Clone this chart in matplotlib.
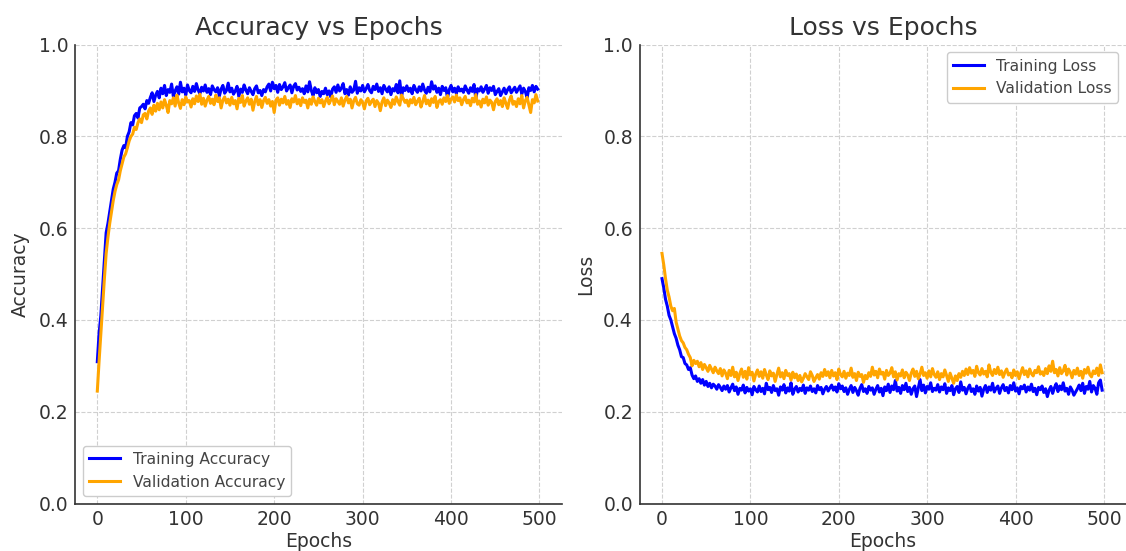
import numpy as np
import matplotlib
matplotlib.use("Agg")
import matplotlib.pyplot as plt

# Epochs sampled every 2 epochs (0, 2, ..., 498)
epochs = list(range(0, 500, 2))

train_acc = [
    0.309, 0.37, 0.41, 0.47, 0.53, 0.59, 0.61, 0.635, 0.66, 0.685, 0.70, 0.72, 0.725, 0.75, 0.77, 0.78, 0.775, 0.80,
    0.81, 0.83, 0.825, 0.845, 0.85, 0.84, 0.862, 0.865, 0.87, 0.86, 0.878, 0.872, 0.885, 0.895, 0.876, 0.89, 0.898, 0.884,
    0.905, 0.893, 0.911, 0.889, 0.902, 0.896, 0.914, 0.887, 0.899, 0.908, 0.892, 0.918, 0.897, 0.905, 0.890, 0.912, 0.900, 0.895, 0.909, 0.898,
    0.915, 0.901, 0.893, 0.907, 0.899, 0.912, 0.896, 0.904, 0.891, 0.910, 0.902, 0.897, 0.906, 0.888, 0.903, 0.911, 0.894, 0.900, 0.916, 0.897,
    0.905, 0.892, 0.899, 0.909, 0.887, 0.903, 0.896, 0.912, 0.901, 0.893, 0.906, 0.898, 0.891, 0.904, 0.910, 0.895, 0.900, 0.889, 0.902, 0.897,
    0.908, 0.914, 0.899, 0.918, 0.904, 0.911, 0.896, 0.913, 0.902, 0.908, 0.917, 0.899, 0.906, 0.912, 0.895, 0.909, 0.915, 0.901, 0.907, 0.898,
    0.904, 0.893, 0.910, 0.897, 0.919, 0.900, 0.889, 0.906, 0.895, 0.902, 0.887, 0.898, 0.893, 0.905, 0.891, 0.899, 0.886, 0.903, 0.908, 0.896,
    0.912, 0.899, 0.905, 0.915, 0.893, 0.902, 0.890, 0.908, 0.896, 0.901, 0.920, 0.894, 0.906, 0.899, 0.911, 0.897, 0.904, 0.913, 0.900, 0.895,
    0.909, 0.902, 0.914, 0.898, 0.906, 0.893, 0.911, 0.903, 0.897, 0.908, 0.891, 0.904, 0.899, 0.913, 0.895, 0.921, 0.887, 0.906, 0.900, 0.910,
    0.898, 0.905, 0.893, 0.911, 0.902, 0.896, 0.908, 0.899, 0.914, 0.901, 0.894, 0.907, 0.897, 0.919, 0.903, 0.910, 0.896, 0.905, 0.891, 0.909,
    0.900, 0.906, 0.884, 0.902, 0.911, 0.897, 0.905, 0.893, 0.908, 0.899, 0.903, 0.896, 0.910, 0.901, 0.894, 0.906, 0.898, 0.913, 0.882, 0.904,
    0.899, 0.908, 0.896, 0.903, 0.911, 0.894, 0.906, 0.900, 0.909, 0.891, 0.898, 0.904, 0.889, 0.897, 0.905, 0.893, 0.902, 0.908, 0.895, 0.901,
    0.907, 0.896, 0.903, 0.910, 0.892, 0.905, 0.898, 0.884, 0.906, 0.900, 0.911, 0.897, 0.909, 0.903,
]

val_acc = [
    0.245, 0.31, 0.37, 0.43, 0.49, 0.545, 0.58, 0.61, 0.635, 0.66, 0.68, 0.695, 0.705, 0.725, 0.74, 0.755, 0.762, 0.775,
    0.79, 0.80, 0.805, 0.82, 0.815, 0.83, 0.838, 0.83, 0.847, 0.85, 0.838, 0.855, 0.862, 0.848, 0.868, 0.855, 0.872, 0.858,
    0.875, 0.862, 0.880, 0.868, 0.852, 0.878, 0.871, 0.884, 0.866, 0.890, 0.873, 0.861, 0.880, 0.869, 0.886, 0.875, 0.878, 0.864, 0.882, 0.871,
    0.888, 0.876, 0.892, 0.870, 0.883, 0.866, 0.879, 0.887, 0.872, 0.881, 0.869, 0.890, 0.876, 0.884, 0.862, 0.879, 0.886, 0.873, 0.881, 0.868,
    0.885, 0.871, 0.878, 0.860, 0.883, 0.874, 0.889, 0.866, 0.877, 0.884, 0.870, 0.881, 0.857, 0.876, 0.887, 0.869, 0.880, 0.863, 0.878, 0.885,
    0.872, 0.880, 0.866, 0.876, 0.852, 0.879, 0.884, 0.868, 0.881, 0.873, 0.887, 0.870, 0.878, 0.863, 0.882, 0.875, 0.889, 0.871, 0.880, 0.867,
    0.884, 0.874, 0.879, 0.862, 0.881, 0.870, 0.886, 0.876, 0.868, 0.883, 0.873, 0.880, 0.865, 0.877, 0.885, 0.871, 0.879, 0.888, 0.869, 0.882,
    0.876, 0.870, 0.884, 0.866, 0.879, 0.887, 0.873, 0.881, 0.862, 0.878, 0.885, 0.871, 0.868, 0.880, 0.874, 0.860, 0.877, 0.883, 0.869, 0.876,
    0.881, 0.865, 0.878, 0.872, 0.856, 0.875, 0.884, 0.867, 0.879, 0.873, 0.863, 0.880, 0.870, 0.886, 0.876, 0.868, 0.890, 0.882, 0.874, 0.879,
    0.866, 0.880, 0.873, 0.885, 0.869, 0.877, 0.883, 0.864, 0.876, 0.889, 0.871, 0.879, 0.867, 0.882, 0.874, 0.887, 0.863, 0.876, 0.880, 0.870,
    0.884, 0.876, 0.889, 0.872, 0.881, 0.886, 0.875, 0.890, 0.878, 0.884, 0.869, 0.880, 0.887, 0.873, 0.879, 0.867, 0.883, 0.875, 0.891, 0.870,
    0.877, 0.864, 0.881, 0.873, 0.886, 0.868, 0.879, 0.874, 0.858, 0.876, 0.882, 0.869, 0.878, 0.865, 0.884, 0.872, 0.861, 0.879, 0.888, 0.870,
    0.876, 0.865, 0.882, 0.871, 0.889, 0.862, 0.878, 0.885, 0.868, 0.852, 0.880, 0.873, 0.891, 0.877,
]

train_loss = [
    0.49, 0.47, 0.445, 0.43, 0.41, 0.40, 0.385, 0.37, 0.36, 0.345, 0.335, 0.32, 0.318, 0.305, 0.302, 0.292, 0.296, 0.28,
    0.272, 0.278, 0.266, 0.272, 0.262, 0.27, 0.258, 0.266, 0.255, 0.262, 0.252, 0.26, 0.256, 0.249, 0.259, 0.253, 0.246, 0.256,
    0.249, 0.257, 0.243, 0.252, 0.260, 0.246, 0.254, 0.238, 0.251, 0.247, 0.258, 0.241, 0.253, 0.245, 0.250, 0.237, 0.255, 0.248, 0.243, 0.256,
    0.244, 0.251, 0.239, 0.262, 0.248, 0.253, 0.242, 0.257, 0.246, 0.250, 0.236, 0.254, 0.247, 0.259, 0.241, 0.252, 0.245, 0.263, 0.238, 0.249,
    0.255, 0.243, 0.251, 0.246, 0.258, 0.240, 0.252, 0.247, 0.256, 0.244, 0.250, 0.241, 0.257, 0.248, 0.253, 0.239, 0.249, 0.255, 0.245, 0.252,
    0.258, 0.247, 0.254, 0.243, 0.261, 0.250, 0.256, 0.244, 0.252, 0.238, 0.249, 0.257, 0.242, 0.253, 0.246, 0.236, 0.251, 0.259, 0.244, 0.250,
    0.240, 0.255, 0.247, 0.252, 0.238, 0.249, 0.257, 0.243, 0.251, 0.235, 0.254, 0.246, 0.260, 0.242, 0.256, 0.248, 0.268, 0.245, 0.253, 0.240,
    0.257, 0.248, 0.262, 0.244, 0.253, 0.238, 0.250, 0.256, 0.233, 0.252, 0.270, 0.246, 0.258, 0.241, 0.255, 0.249, 0.263, 0.244, 0.251, 0.247,
    0.259, 0.243, 0.254, 0.248, 0.261, 0.240, 0.252, 0.246, 0.257, 0.237, 0.250, 0.255, 0.242, 0.265, 0.247, 0.253, 0.239, 0.251, 0.258, 0.244,
    0.250, 0.238, 0.256, 0.245, 0.253, 0.234, 0.249, 0.257, 0.242, 0.254, 0.247, 0.262, 0.243, 0.251, 0.256, 0.240, 0.252, 0.259, 0.246, 0.253,
    0.241, 0.257, 0.248, 0.263, 0.245, 0.252, 0.239, 0.255, 0.250, 0.258, 0.243, 0.254, 0.247, 0.260, 0.244, 0.251, 0.237, 0.253, 0.248, 0.256,
    0.242, 0.250, 0.233, 0.247, 0.255, 0.240, 0.252, 0.261, 0.244, 0.256, 0.248, 0.263, 0.245, 0.251, 0.238, 0.254, 0.247, 0.236, 0.243, 0.250,
    0.258, 0.246, 0.262, 0.240, 0.255, 0.249, 0.266, 0.243, 0.257, 0.251, 0.238, 0.263, 0.269, 0.247,
]

val_loss = [
    0.545, 0.52, 0.49, 0.465, 0.45, 0.43, 0.42, 0.425, 0.395, 0.38, 0.365, 0.355, 0.35, 0.34, 0.335, 0.325, 0.318, 0.30,
    0.312, 0.305, 0.31, 0.298, 0.307, 0.292, 0.303, 0.296, 0.288, 0.301, 0.293, 0.285, 0.297, 0.289, 0.283, 0.294, 0.278, 0.291,
    0.284, 0.272, 0.290, 0.279, 0.297, 0.276, 0.286, 0.268, 0.283, 0.293, 0.275, 0.288, 0.271, 0.296, 0.280, 0.286, 0.267, 0.282, 0.291, 0.277,
    0.287, 0.273, 0.292, 0.280, 0.270, 0.289, 0.278, 0.284, 0.266, 0.281, 0.295, 0.276, 0.285, 0.272, 0.290, 0.279, 0.283, 0.269, 0.286, 0.274,
    0.282, 0.268, 0.279, 0.265, 0.273, 0.283, 0.276, 0.270, 0.287, 0.279, 0.266, 0.274, 0.281, 0.271, 0.285, 0.277, 0.292, 0.279, 0.287, 0.274,
    0.290, 0.278, 0.285, 0.270, 0.293, 0.281, 0.276, 0.288, 0.273, 0.284, 0.279, 0.295, 0.275, 0.283, 0.268, 0.286, 0.277, 0.281, 0.264, 0.279,
    0.272, 0.285, 0.277, 0.297, 0.280, 0.288, 0.274, 0.293, 0.282, 0.286, 0.271, 0.290, 0.279, 0.284, 0.296, 0.276, 0.287, 0.269, 0.283, 0.278,
    0.291, 0.274, 0.286, 0.280, 0.268, 0.284, 0.293, 0.277, 0.288, 0.272, 0.282, 0.297, 0.279, 0.285, 0.273, 0.289, 0.276, 0.294, 0.281, 0.275,
    0.287, 0.270, 0.283, 0.276, 0.291, 0.279, 0.266, 0.284, 0.273, 0.262, 0.278, 0.268, 0.283, 0.275, 0.288, 0.279, 0.293, 0.281, 0.296, 0.284,
    0.290, 0.277, 0.299, 0.285, 0.280, 0.294, 0.282, 0.288, 0.276, 0.302, 0.286, 0.279, 0.292, 0.283, 0.297, 0.281, 0.289, 0.275, 0.286, 0.293,
    0.280, 0.284, 0.274, 0.291, 0.279, 0.287, 0.272, 0.285, 0.296, 0.281, 0.289, 0.276, 0.293, 0.283, 0.278, 0.290, 0.285, 0.298, 0.282, 0.287,
    0.279, 0.294, 0.283, 0.300, 0.288, 0.310, 0.285, 0.292, 0.278, 0.296, 0.283, 0.289, 0.301, 0.280, 0.293, 0.286, 0.274, 0.290, 0.282, 0.295,
    0.279, 0.288, 0.273, 0.292, 0.284, 0.297, 0.281, 0.276, 0.289, 0.283, 0.295, 0.279, 0.302, 0.285,
]

titles = ["Accuracy vs Epochs", "Loss vs Epochs"]
ylabels = ["Accuracy", "Loss"]
x_label = "Epochs"
legend_acc = ["Training Accuracy", "Validation Accuracy"]
legend_loss = ["Training Loss", "Validation Loss"]

TEXT = "#333333"
plt.rcParams["font.family"] = ["DejaVu Sans"]
plt.rcParams["text.color"] = TEXT
plt.rcParams["axes.labelcolor"] = TEXT
plt.rcParams["xtick.color"] = TEXT
plt.rcParams["ytick.color"] = TEXT

fig = plt.figure(figsize=(11.26, 5.51), dpi=100)
W, H = 1126, 551
ax1 = fig.add_axes([75.2 / W, 1 - 503.5 / H, 486.4 / W, 458.9 / H])
ax2 = fig.add_axes([639.9 / W, 1 - 503.5 / H, 486.1 / W, 458.9 / H])


def style(ax, title, ylabel):
    ax.set_xlim(-25, 525)
    ax.set_ylim(0, 1.0)
    ax.set_xticks([0, 100, 200, 300, 400, 500])
    ax.set_yticks([0.0, 0.2, 0.4, 0.6, 0.8, 1.0])
    ax.grid(True, linestyle="--", color="#d0d0d0", linewidth=0.8)
    ax.set_axisbelow(True)
    for s in ["top", "right"]:
        ax.spines[s].set_visible(False)
    for s in ["left", "bottom"]:
        ax.spines[s].set_color(TEXT)
        ax.spines[s].set_linewidth(1.2)
    ax.tick_params(axis="both", length=0, pad=5, labelsize=13.5)
    ax.set_title(title, fontsize=18, color=TEXT, pad=7)
    ax.set_xlabel(x_label, fontsize=13.5, labelpad=2)
    ax.set_ylabel(ylabel, fontsize=13.5, labelpad=6)


ax1.plot(epochs, train_acc, color="blue", linewidth=2.2, label=legend_acc[0])
ax1.plot(epochs, val_acc, color="orange", linewidth=2.2, label=legend_acc[1])
style(ax1, titles[0], ylabels[0])
leg1 = ax1.legend(loc="lower left", fontsize=11.2, framealpha=1, edgecolor="#cccccc")
for t in leg1.get_texts():
    t.set_color("#444444")

ax2.plot(epochs, train_loss, color="blue", linewidth=2.2, label=legend_loss[0])
ax2.plot(epochs, val_loss, color="orange", linewidth=2.2, label=legend_loss[1])
style(ax2, titles[1], ylabels[1])
leg2 = ax2.legend(loc="upper right", fontsize=11.2, framealpha=1, edgecolor="#cccccc")
for t in leg2.get_texts():
    t.set_color("#444444")

fig.savefig("out.png", dpi=100)
